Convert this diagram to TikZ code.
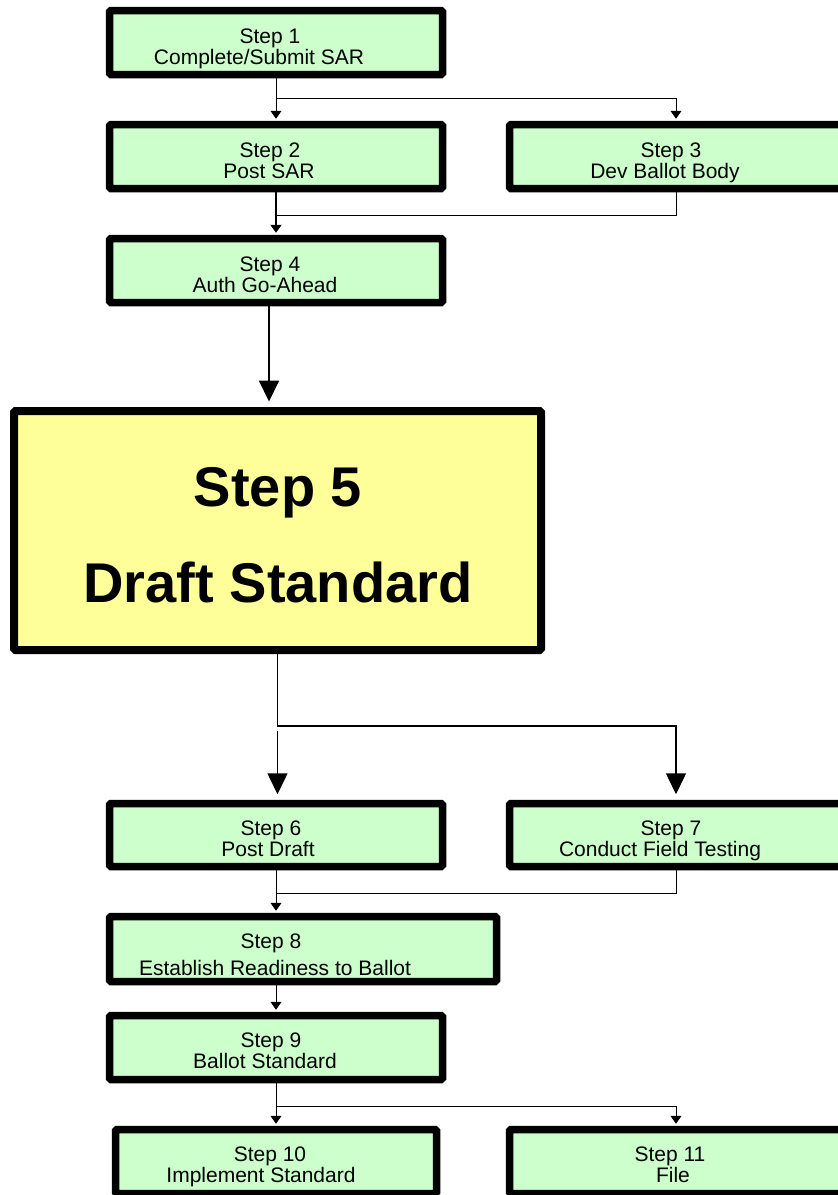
\documentclass[tikz,border=0pt]{standalone}
\usepackage{fontspec}
\setmainfont{Liberation Sans}
\usetikzlibrary{arrows.meta}
\definecolor{boxgreen}{HTML}{CCFFCC}
\definecolor{boxyellow}{HTML}{FFFF99}
\begin{document}
\begin{tikzpicture}[x=1pt,y=-1pt,
  stepbox/.style={draw=black, line width=7.5pt, fill=boxgreen, rounded corners=1.5pt,
    inner sep=0pt, minimum width=333pt, minimum height=64pt},
  bigbox/.style={draw=black, line width=8pt, fill=boxyellow, rounded corners=1.5pt,
    inner sep=0pt, minimum width=527pt, minimum height=239pt},
  steptext/.style={anchor=base, inner sep=0pt, font=\fontsize{21}{21}\selectfont},
  bigtext/.style={anchor=base, inner sep=0pt, font=\fontsize{56}{56}\selectfont\bfseries},
  thinline/.style={draw=black, line width=1pt},
  medline/.style={draw=black, line width=2pt},
  smallarrow/.style={-{Triangle[length=8pt,width=11pt]}, shorten >=2pt},
  bigarrow/.style={-{Triangle[length=21pt,width=20pt]}, shorten >=5.5pt}
]
\path[use as bounding box] (0,0) rectangle (838,1195);
\clip (0,0) rectangle (838,1195);

% boxes
\node[stepbox] (s1) at (276,42.5) {};
\node[stepbox] (s2) at (276,156.5) {};
\node[stepbox] (s3) at (676,156.5) {};
\node[stepbox] (s4) at (276,270.5) {};
\node[bigbox] (s5) at (277.5,530.5) {};
\node[stepbox, minimum height=63pt] (s6) at (276,835) {};
\node[stepbox, minimum height=63pt] (s7) at (676,835) {};
\node[stepbox, minimum width=387pt, minimum height=65pt] (s8) at (303,949) {};
\node[stepbox] (s9) at (276,1047.5) {};
\node[stepbox, minimum width=321pt] (s10) at (276,1161.5) {};
\node[stepbox] (s11) at (676,1161.5) {};

% texts
\node[steptext] (t1a) at (270,43.5) {Step 1};
\node[steptext] (t1b) at (259,64.5) {Complete/Submit SAR};
\node[steptext] (t2a) at (270,157.5) {Step 2};
\node[steptext] (t2b) at (269,178.5) {Post SAR};
\node[steptext] (t3a) at (671,157.5) {Step 3};
\node[steptext] (t3b) at (665,178.5) {Dev Ballot Body};
\node[steptext] (t4a) at (270,271.5) {Step 4};
\node[steptext] (t4b) at (265,292.5) {Auth Go-Ahead};
\node[bigtext] (t5a) at (278,506) {Step 5};
\node[bigtext] (t5b) at (278,602) {Draft Standard};
\node[steptext] (t6a) at (271,835.5) {Step 6};
\node[steptext] (t6b) at (268,856.5) {Post Draft};
\node[steptext] (t7a) at (671,835.5) {Step 7};
\node[steptext] (t7b) at (660,856.5) {Conduct Field Testing};
\node[steptext] (t8a) at (271,948.5) {Step 8};
\node[steptext] (t8b) at (275,975.5) {Establish Readiness to Ballot};
\node[steptext] (t9a) at (271,1047.5) {Step 9};
\node[steptext] (t9b) at (265,1068.5) {Ballot Standard};
\node[steptext] (t10a) at (270,1161.5) {Step 10};
\node[steptext] (t10b) at (261,1182.5) {Implement Standard};
\node[steptext] (t11a) at (670,1161.5) {Step 11};
\node[steptext] (t11b) at (673,1182.5) {File};

% connectors
\coordinate (b1) at (276,98);
\draw[thinline] (s1.south) -- (b1);
\draw[thinline, smallarrow] (b1) -- (s2.north);
\draw[thinline, smallarrow] (b1) -| (s3.north);

\coordinate (b2) at (276,215);
\draw[thinline] (s3.south) |- (b2);
\draw[medline, smallarrow] (s2.south) -- (s4.north);

\draw[medline, bigarrow] ([xshift=-7pt]s4.south) -- ([xshift=-7pt]s4.south |- s5.north);

\coordinate (b3) at (277.5,726);
\coordinate (b3a) at (277.5,731);
\draw[line width=1.5pt, bigarrow] (s5.south) -- (b3) -| (s7.north);
\draw[line width=1.5pt, bigarrow] (b3a) -- (b3a |- s6.north);

\draw[thinline, smallarrow] (s6.south) -- (s6.south |- s8.north);
\coordinate (b4) at (276,893);
\draw[thinline] (s7.south) |- (b4);

\draw[thinline, smallarrow] (s9.north |- s8.south) -- (s9.north);

\coordinate (b5) at (276,1106);
\draw[thinline] (s9.south) -- (b5);
\draw[thinline, smallarrow] (b5) -- (s10.north);
\draw[thinline, smallarrow] (b5) -| (s11.north);
\end{tikzpicture}
\end{document}
